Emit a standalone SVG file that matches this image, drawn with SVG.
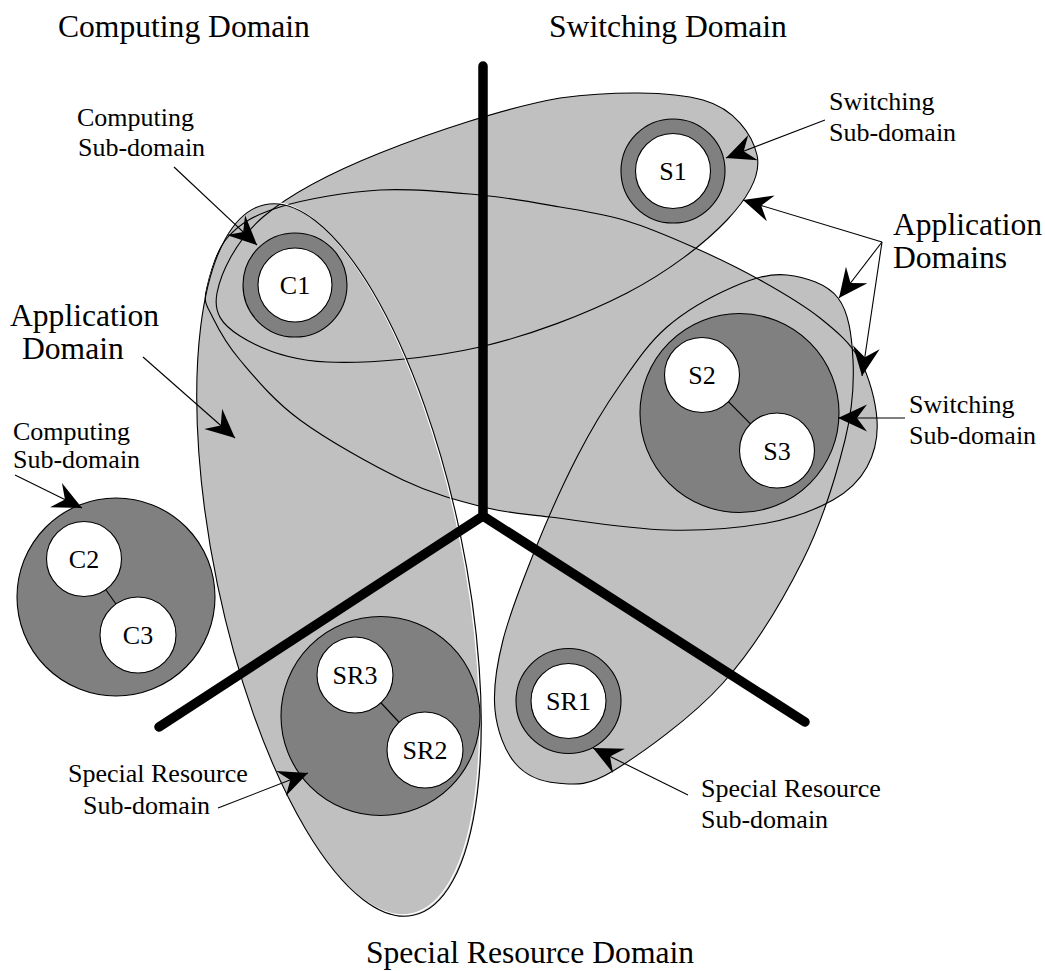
<svg xmlns="http://www.w3.org/2000/svg" xmlns:xlink="http://www.w3.org/1999/xlink" width="1045" height="971" viewBox="0 0 1045 971">
<style>
  .fill{fill:#c0c0c0;stroke:none}
  .edge{fill:none;stroke:#000;stroke-width:1.1}
  .halo{fill:none;stroke:#fff;stroke-width:1.3}
  .axis{fill:none;stroke:#000;stroke-width:9.5;stroke-linecap:round;stroke-linejoin:miter}
  .ring{fill:#808080;stroke:#000;stroke-width:1.1}
  .node{fill:#fff;stroke:#000;stroke-width:1.1}
  .link{stroke:#000;stroke-width:1.1}
  .conn{fill:none;stroke:#000;stroke-width:1.1;marker-end:url(#ah)}
  text{font-family:"Liberation Serif","Times New Roman",serif;fill:#000}
  .big{font-size:31.6px}
  .small{font-size:26px}
  .lbl{font-size:26px;text-anchor:middle}
</style>
<defs>
  <marker id="ah" viewBox="-31 -16 32 32" refX="0" refY="0" markerWidth="32" markerHeight="32" markerUnits="userSpaceOnUse" orient="auto">
    <path d="M0,0 L-29,-13.5 L-19,0 L-29,13.5 Z" fill="#000"/>
  </marker>
  <path id="shA" d="M217,293 C220.8,273.2 235.8,240.3 263,217 C290.2,193.7 330.5,172.8 380,153 C429.5,133.2 506.7,107.2 560,98 C613,91 670,91 703,100 C735,109 752.5,134.7 757,155 C761.5,175.3 748.7,197 727,220 C705.3,243 668.2,271.8 627,293 C585.8,314.2 530,335.5 480,347 C430,358.5 367,363.8 327,362 C287,360.2 258.3,347.5 240,336 C221.7,324.5 213.2,312.8 217,293 Z"/>
  <path id="shB" d="M206,290 C208.5,276.5 215.7,250.8 228,237 C240.3,223.2 254.7,214.8 280,207 C305.3,199.2 346.7,192 380,190 C413.3,188 450,192.2 480,195 C510,197.8 535.5,202.7 560,207 C584.5,211.3 604.8,214.3 627,221 C649.2,227.7 670.8,237.2 693,247 C715.2,256.8 738.8,268.2 760,280 C781.2,291.8 803.3,304.7 820,318 C836.7,331.3 850.5,343 860,360 C869.5,377 875.8,402.2 877,420 C878.2,437.8 874.3,453.7 867,467 C859.7,480.3 849.7,490.7 833,500 C816.3,509.3 794.7,518 767,523 C739.3,528 703.2,531 667,530 C630.8,529 580.7,520.8 550,517 C519.3,513.2 507.5,513.2 483,507 C458.5,500.8 433.5,494.5 403,480 C372.5,465.5 327.2,440 300,420 C272.8,400 254.5,377 240,360 C225.5,343 218.7,329.7 213,318 C207.3,306.3 203.5,303.5 206,290 Z"/>
  <ellipse id="shC" cx="339" cy="560" rx="124" ry="363" transform="rotate(-11.8 339 560)"/>
  <path id="shD" d="M787,275 C804.5,276.8 827,283.8 838,298 C849,312.2 851.8,336.3 853,360 C854.2,383.7 853.3,406.7 845,440 C836.7,473.3 823.3,519.5 803,560 C782.7,600.5 754.7,647.8 723,683 C691.3,718.2 640.7,754.3 613,771 C585.3,787.7 573.3,784.3 557,783 C540.7,781.7 525.3,775.2 515,763 C504.7,750.8 497,730.5 495,710 C493,689.5 496,667.5 503,640 C510,612.5 524.5,575.8 537,545 C549.5,514.2 564.2,481.7 578,455 C591.8,428.3 605.2,406.3 620,385 C634.8,363.7 648.2,343.3 667,327 C685.8,310.7 713,295.7 733,287 C753,278.3 769.5,273.2 787,275 Z"/>
</defs>

<g id="application-domains">
  <g id="fills">
    <use xlink:href="#shA" class="fill"/>
    <use xlink:href="#shB" class="fill"/>
    <use xlink:href="#shC" class="fill"/>
    <use xlink:href="#shD" class="fill"/>
  </g>
  <g id="app-domain-C1-S1"><use xlink:href="#shA" class="edge"/></g>
  <g id="app-domain-C1-S2-S3"><use xlink:href="#shB" class="edge"/></g>
  <g id="app-domain-C1-SR"><use xlink:href="#shC" class="halo" transform="translate(-1.6,-1.4)"/><use xlink:href="#shC" class="edge"/></g>
  <g id="app-domain-S-SR1"><use xlink:href="#shD" class="edge"/></g>
</g>

<g id="domain-axes">
  <polyline class="axis" points="483,66 483,516 159,727"/>
  <line class="axis" x1="483" y1="516" x2="805" y2="722"/>
</g>

<g id="C1">
  <circle class="ring" cx="295" cy="285" r="52"/>
  <circle class="node" cx="295" cy="285" r="37"/>
  <text class="lbl" x="295" y="294">C1</text>
</g>
<g id="S1">
  <circle class="ring" cx="673" cy="171" r="52"/>
  <circle class="node" cx="673" cy="171" r="37.5"/>
  <text class="lbl" x="673" y="180">S1</text>
</g>
<g id="SR1">
  <circle class="ring" cx="568.5" cy="701" r="52.5"/>
  <circle class="node" cx="568.5" cy="701" r="37.5"/>
  <text class="lbl" x="568.5" y="710">SR1</text>
</g>
<g id="switching-subdomain-S2-S3">
  <circle class="ring" cx="739.5" cy="413" r="99.5"/>
  <line class="link" x1="702" y1="375" x2="777" y2="450.5"/>
  <g id="S2"><circle class="node" cx="702" cy="375" r="37.5"/><text class="lbl" x="702" y="384">S2</text></g>
  <g id="S3"><circle class="node" cx="777" cy="450.5" r="37.5"/><text class="lbl" x="777" y="459.5">S3</text></g>
</g>
<g id="computing-subdomain-C2-C3">
  <circle class="ring" cx="116" cy="597" r="99"/>
  <line class="link" x1="84" y1="559" x2="138" y2="635"/>
  <g id="C2"><circle class="node" cx="84" cy="559" r="37.5"/><text class="lbl" x="84" y="568">C2</text></g>
  <g id="C3"><circle class="node" cx="138" cy="635" r="38"/><text class="lbl" x="138" y="644">C3</text></g>
</g>
<g id="sr-subdomain-SR3-SR2">
  <circle class="ring" cx="380.5" cy="716" r="99.5"/>
  <line class="link" x1="355" y1="675" x2="425" y2="750"/>
  <g id="SR3"><circle class="node" cx="355" cy="675" r="38"/><text class="lbl" x="355" y="684">SR3</text></g>
  <g id="SR2"><circle class="node" cx="425" cy="750" r="38"/><text class="lbl" x="425" y="759">SR2</text></g>
</g>

<g id="connectors">
  <line class="conn" x1="174" y1="167" x2="257" y2="245"/>
  <line class="conn" x1="825" y1="120" x2="726" y2="158"/>
  <line class="conn" x1="882" y1="242" x2="743" y2="200"/>
  <line class="conn" x1="882" y1="242" x2="839" y2="298"/>
  <line class="conn" x1="882" y1="242" x2="862" y2="376"/>
  <line class="conn" x1="905" y1="418" x2="838" y2="418"/>
  <line class="conn" x1="143" y1="357" x2="235" y2="438"/>
  <line class="conn" x1="15" y1="475" x2="82" y2="508"/>
  <line class="conn" x1="218" y1="808" x2="308" y2="773"/>
  <line class="conn" x1="688" y1="795" x2="593" y2="748"/>
</g>

<g id="labels">
  <text class="big" x="58" y="37">Computing Domain</text>
  <text class="big" x="549" y="37">Switching Domain</text>
  <text class="big" x="530" y="963" text-anchor="middle">Special Resource Domain</text>
  <text class="big" x="10" y="326">Application</text>
  <text class="big" x="22" y="359">Domain</text>
  <text class="big" x="893" y="235">Application</text>
  <text class="big" x="893" y="268">Domains</text>
  <text class="small" x="77" y="126">Computing</text>
  <text class="small" x="78" y="156">Sub-domain</text>
  <text class="small" x="829" y="110">Switching</text>
  <text class="small" x="829" y="141">Sub-domain</text>
  <text class="small" x="909" y="413">Switching</text>
  <text class="small" x="909" y="444">Sub-domain</text>
  <text class="small" x="13" y="440">Computing</text>
  <text class="small" x="13" y="468">Sub-domain</text>
  <text class="small" x="68" y="782">Special Resource</text>
  <text class="small" x="83" y="814">Sub-domain</text>
  <text class="small" x="701" y="797">Special Resource</text>
  <text class="small" x="701" y="828">Sub-domain</text>
</g>
</svg>
